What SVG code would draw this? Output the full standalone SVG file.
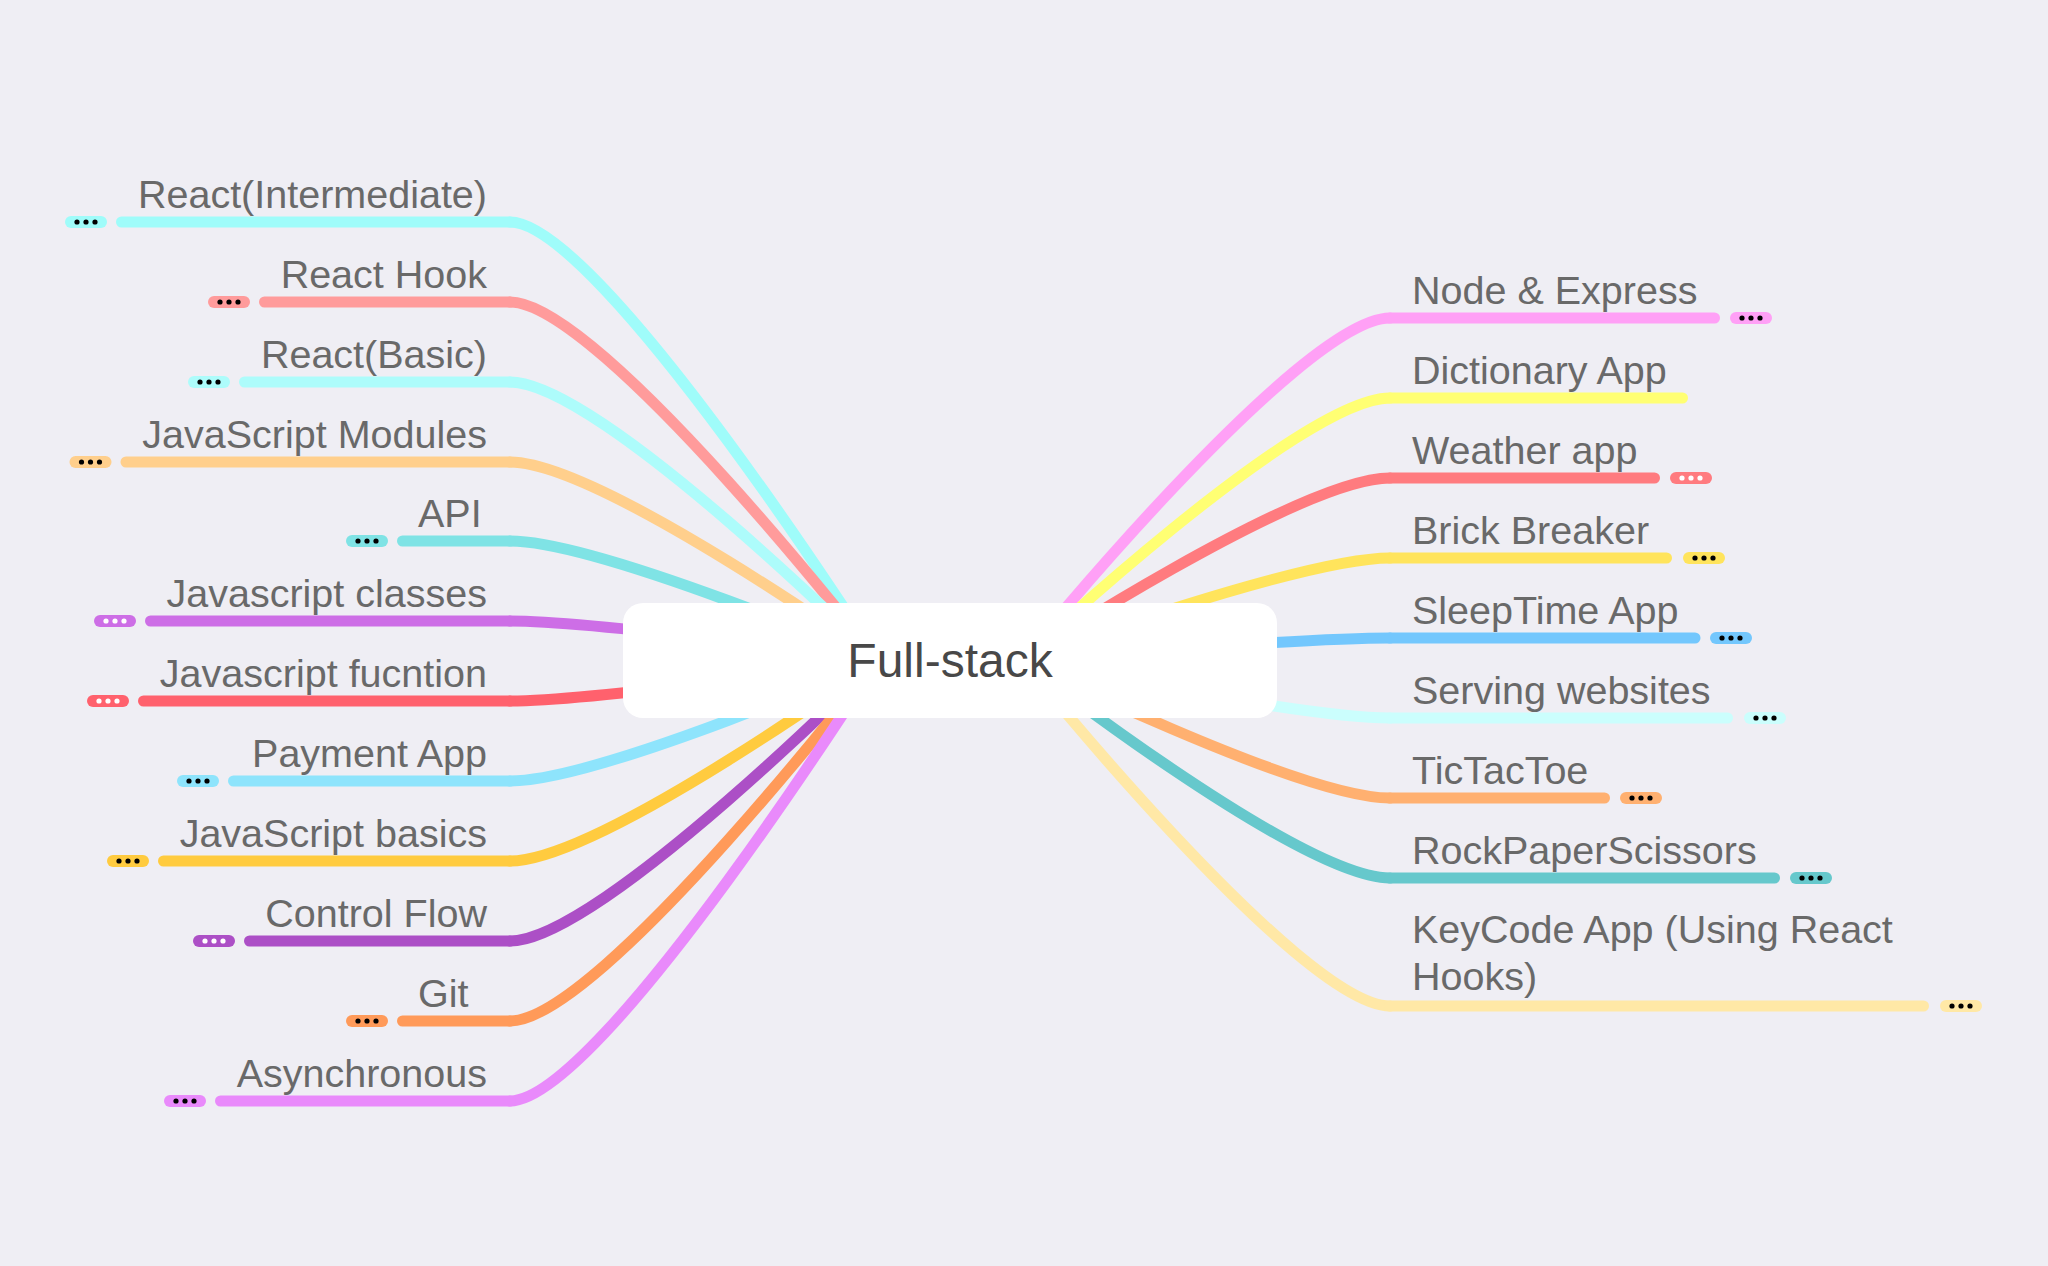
<svg xmlns="http://www.w3.org/2000/svg" width="2048" height="1266" viewBox="0 0 2048 1266">
<defs>
<style>
.lbl{font-family:"Liberation Sans",Arial,sans-serif;font-size:39.5px;fill:#696969}
.ctr{font-family:"Liberation Sans",Arial,sans-serif;font-size:48px;fill:#484848}
.br{fill:none;stroke-width:11;stroke-linecap:round}
.ul{fill:none;stroke-width:11;stroke-linecap:round}
</style>
<g id="dotsB" fill="#000"><circle cx="-9" cy="0" r="2.6"/><circle cx="0" cy="0" r="2.6"/><circle cx="9" cy="0" r="2.6"/></g>
<g id="dotsW" fill="#fff"><circle cx="-9" cy="0" r="2.6"/><circle cx="0" cy="0" r="2.6"/><circle cx="9" cy="0" r="2.6"/></g>
</defs>
<rect x="0" y="0" width="2048" height="1266" fill="#efeef4"/>

<g id="connectors">
<path class="br" stroke="#9ffcfa" d="M878 660C878 660 600 222 510 222"/>
<path class="br" stroke="#ff9b9b" d="M878 660C878 660 600 302 510 302"/>
<path class="br" stroke="#adfcfb" d="M878 660C878 660 600 382 510 382"/>
<path class="br" stroke="#ffcf8c" d="M878 660C878 660 600 462 510 462"/>
<path class="br" stroke="#7fe3e5" d="M878 660C878 660 600 541 510 541"/>
<path class="br" stroke="#cd6ee6" d="M878 660C878 660 600 621 510 621"/>
<path class="br" stroke="#ff616d" d="M878 660C878 660 600 701 510 701"/>
<path class="br" stroke="#8ee4fc" d="M878 660C878 660 600 781 510 781"/>
<path class="br" stroke="#ffcb3f" d="M878 660C878 660 600 861 510 861"/>
<path class="br" stroke="#ac4fc6" d="M878 660C878 660 600 941 510 941"/>
<path class="br" stroke="#ff9a59" d="M878 660C878 660 600 1021 510 1021"/>
<path class="br" stroke="#e98afb" d="M878 660C878 660 600 1101 510 1101"/>

<path class="br" stroke="#ffa0f6" d="M1022 660C1022 660 1300 318 1390 318"/>
<path class="br" stroke="#ffff73" d="M1022 660C1022 660 1300 398 1390 398"/>
<path class="br" stroke="#ff7b7f" d="M1022 660C1022 660 1300 478 1390 478"/>
<path class="br" stroke="#ffe45c" d="M1022 660C1022 660 1300 558 1390 558"/>
<path class="br" stroke="#73c7fd" d="M1022 660C1022 660 1300 638 1390 638"/>
<path class="br" stroke="#cbfefd" d="M1022 660C1022 660 1300 718 1390 718"/>
<path class="br" stroke="#ffb070" d="M1022 660C1022 660 1300 798 1390 798"/>
<path class="br" stroke="#66c8cc" d="M1022 660C1022 660 1300 878 1390 878"/>
<path class="br" stroke="#ffe8a6" d="M1022 660C1022 660 1300 1006 1390 1006"/>
</g>

<g id="node-center">
<rect x="623" y="603" width="654" height="115" rx="20" fill="#ffffff"/>
<text class="ctr" x="950" y="677" text-anchor="middle">Full-stack</text>
</g>

<g id="node-react-intermediate">
<path class="ul" stroke="#9ffcfa" d="M121.5 222H510"/>
<text class="lbl" x="487" y="208" text-anchor="end">React(Intermediate)</text>
<rect x="65" y="216" width="42" height="12" rx="6" fill="#9ffcfa"/><use href="#dotsB" x="86" y="222"/>
</g>
<g id="node-react-hook">
<path class="ul" stroke="#ff9b9b" d="M264.5 302H510"/>
<text class="lbl" x="487" y="288" text-anchor="end">React Hook</text>
<rect x="208" y="296" width="42" height="12" rx="6" fill="#ff9b9b"/><use href="#dotsB" x="229" y="302"/>
</g>
<g id="node-react-basic">
<path class="ul" stroke="#adfcfb" d="M244.5 382H510"/>
<text class="lbl" x="487" y="368" text-anchor="end">React(Basic)</text>
<rect x="188" y="376" width="42" height="12" rx="6" fill="#adfcfb"/><use href="#dotsB" x="209" y="382"/>
</g>
<g id="node-js-modules">
<path class="ul" stroke="#ffcf8c" d="M126 462H510"/>
<text class="lbl" x="487" y="448" text-anchor="end">JavaScript Modules</text>
<rect x="69.5" y="456" width="42" height="12" rx="6" fill="#ffcf8c"/><use href="#dotsB" x="90.5" y="462"/>
</g>
<g id="node-api">
<path class="ul" stroke="#7fe3e5" d="M402.5 541H510"/>
<text class="lbl" x="418" y="527">API</text>
<rect x="346" y="535" width="42" height="12" rx="6" fill="#7fe3e5"/><use href="#dotsB" x="367" y="541"/>
</g>
<g id="node-js-classes">
<path class="ul" stroke="#cd6ee6" d="M150.5 621H510"/>
<text class="lbl" x="487" y="607" text-anchor="end">Javascript classes</text>
<rect x="94" y="615" width="42" height="12" rx="6" fill="#cd6ee6"/><use href="#dotsW" x="115" y="621"/>
</g>
<g id="node-js-function">
<path class="ul" stroke="#ff616d" d="M143.5 701H510"/>
<text class="lbl" x="487" y="687" text-anchor="end">Javascript fucntion</text>
<rect x="87" y="695" width="42" height="12" rx="6" fill="#ff616d"/><use href="#dotsW" x="108" y="701"/>
</g>
<g id="node-payment-app">
<path class="ul" stroke="#8ee4fc" d="M233.5 781H510"/>
<text class="lbl" x="487" y="767" text-anchor="end">Payment App</text>
<rect x="177" y="775" width="42" height="12" rx="6" fill="#8ee4fc"/><use href="#dotsB" x="198" y="781"/>
</g>
<g id="node-js-basics">
<path class="ul" stroke="#ffcb3f" d="M163.5 861H510"/>
<text class="lbl" x="487" y="847" text-anchor="end">JavaScript basics</text>
<rect x="107" y="855" width="42" height="12" rx="6" fill="#ffcb3f"/><use href="#dotsB" x="128" y="861"/>
</g>
<g id="node-control-flow">
<path class="ul" stroke="#ac4fc6" d="M249.5 941H510"/>
<text class="lbl" x="487" y="927" text-anchor="end">Control Flow</text>
<rect x="193" y="935" width="42" height="12" rx="6" fill="#ac4fc6"/><use href="#dotsW" x="214" y="941"/>
</g>
<g id="node-git">
<path class="ul" stroke="#ff9a59" d="M402.5 1021H510"/>
<text class="lbl" x="418" y="1007">Git</text>
<rect x="346" y="1015" width="42" height="12" rx="6" fill="#ff9a59"/><use href="#dotsB" x="367" y="1021"/>
</g>
<g id="node-asynchronous">
<path class="ul" stroke="#e98afb" d="M220.5 1101H510"/>
<text class="lbl" x="487" y="1087" text-anchor="end">Asynchronous</text>
<rect x="164" y="1095" width="42" height="12" rx="6" fill="#e98afb"/><use href="#dotsB" x="185" y="1101"/>
</g>

<g id="node-node-express">
<path class="ul" stroke="#ffa0f6" d="M1390 318H1714.5"/>
<text class="lbl" x="1412" y="304">Node &amp; Express</text>
<rect x="1730" y="312" width="42" height="12" rx="6" fill="#ffa0f6"/><use href="#dotsB" x="1751" y="318"/>
</g>
<g id="node-dictionary-app">
<path class="ul" stroke="#ffff73" d="M1390 398H1682.5"/>
<text class="lbl" x="1412" y="384">Dictionary App</text>
</g>
<g id="node-weather-app">
<path class="ul" stroke="#ff7b7f" d="M1390 478H1654.5"/>
<text class="lbl" x="1412" y="464">Weather app</text>
<rect x="1670" y="472" width="42" height="12" rx="6" fill="#ff7b7f"/><use href="#dotsW" x="1691" y="478"/>
</g>
<g id="node-brick-breaker">
<path class="ul" stroke="#ffe45c" d="M1390 558H1666.5"/>
<text class="lbl" x="1412" y="544">Brick Breaker</text>
<rect x="1683" y="552" width="42" height="12" rx="6" fill="#ffe45c"/><use href="#dotsB" x="1704" y="558"/>
</g>
<g id="node-sleeptime-app">
<path class="ul" stroke="#73c7fd" d="M1390 638H1695"/>
<text class="lbl" x="1412" y="624">SleepTime App</text>
<rect x="1710" y="632" width="42" height="12" rx="6" fill="#73c7fd"/><use href="#dotsB" x="1731" y="638"/>
</g>
<g id="node-serving-websites">
<path class="ul" stroke="#cbfefd" d="M1390 718H1727.5"/>
<text class="lbl" x="1412" y="704">Serving websites</text>
<rect x="1744" y="712" width="42" height="12" rx="6" fill="#cbfefd"/><use href="#dotsB" x="1765" y="718"/>
</g>
<g id="node-tictactoe">
<path class="ul" stroke="#ffb070" d="M1390 798H1604.5"/>
<text class="lbl" x="1412" y="784">TicTacToe</text>
<rect x="1620" y="792" width="42" height="12" rx="6" fill="#ffb070"/><use href="#dotsB" x="1641" y="798"/>
</g>
<g id="node-rockpaperscissors">
<path class="ul" stroke="#66c8cc" d="M1390 878H1774.5"/>
<text class="lbl" x="1412" y="864">RockPaperScissors</text>
<rect x="1790" y="872" width="42" height="12" rx="6" fill="#66c8cc"/><use href="#dotsB" x="1811" y="878"/>
</g>
<g id="node-keycode-app">
<path class="ul" stroke="#ffe8a6" d="M1390 1006H1923.5"/>
<text class="lbl" x="1412" y="943">KeyCode App (Using React</text>
<text class="lbl" x="1412" y="990">Hooks)</text>
<rect x="1940" y="1000" width="42" height="12" rx="6" fill="#ffe8a6"/><use href="#dotsB" x="1961" y="1006"/>
</g>
</svg>
